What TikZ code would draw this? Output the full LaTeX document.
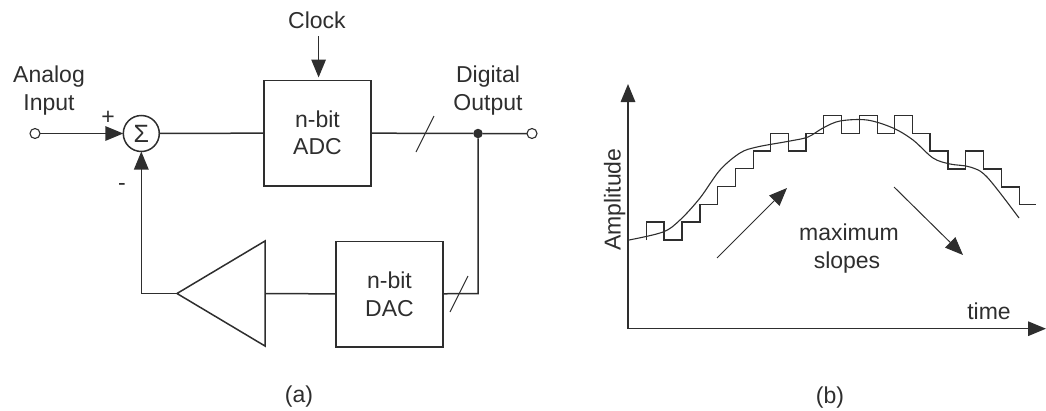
\documentclass[tikz,border=0pt]{standalone}
\usepackage{fontspec}
\setmainfont{Liberation Sans}
\usetikzlibrary{arrows.meta}
\definecolor{ink}{HTML}{2E2E2E}
\tikzset{
  wire/.style={draw=ink,line width=1.5pt},
  thin wire/.style={draw=ink,line width=1pt},
  head/.style={-{Triangle[length=18pt,width=14.5pt,fill=ink,color=ink]}},
  port/.style={circle,draw=ink,line width=1.1pt,fill=white,minimum size=10pt,inner sep=0pt,outer sep=0pt},
  junction/.style={circle,fill=ink,minimum size=9.5pt,inner sep=0pt,outer sep=0pt},
  block/.style={draw=ink,line width=1.5pt,align=center,inner sep=0pt,outer sep=0pt,text=ink,font=\fontsize{23}{27.5}\selectfont},
  lbl/.style={inner sep=0pt,outer sep=0pt,text=ink,font=\fontsize{23}{28}\selectfont,anchor=base},
  lblm/.style={inner sep=0pt,outer sep=0pt,text=ink,font=\fontsize{23}{28}\selectfont,align=center}
}
\begin{document}
\begin{tikzpicture}[x=1pt,y=-1pt]
\useasboundingbox (0,0) rectangle (1046,410);
% (a) nodes
\node[port] (in) at (35,133.5) {};
\node[circle,draw=ink,line width=1.5pt,minimum size=36pt,inner sep=0pt,outer sep=0pt,text=ink,font=\fontsize{25}{25}\selectfont] (sum) at (141.3,133.5) {Σ};
\node[block,minimum width=107pt,minimum height=105.5pt] (adc) at (317.5,133) {n-bit\\ADC};
\node[block,minimum width=107pt,minimum height=105.5pt] (dac) at (389.5,294.2) {n-bit\\DAC};
\node[junction] (dot) at (478,133.5) {};
\node[port] (out) at (532,133.5) {};
\node[lblm] (analog) at (49,90.5) {Analog\\Input};
\node[lblm] (digital) at (488,90.5) {Digital\\Output};
\node[lbl] (clock) at (317,28) {Clock};
\node[lbl] (plus) at (108,124) {+};
\node[lbl] (minus) at (122,190) {-};
\node[lbl] (cap a) at (299,402) {(a)};
\coordinate (clkfrom) at (318.6,36);
\coordinate (clkto) at (318.6,77.5);
\coordinate (amptip) at (177,293.5);
\coordinate (amptop) at (265,241);
\coordinate (ampbot) at (265,346);
\coordinate (ampin) at (265,293.5);
\coordinate (fbcorner) at (141.3,293.5);
\coordinate (fbr) at (478,293.5);
% (a) connectors
\draw[wire] (amptip) -- (amptop) -- (ampbot) -- cycle;
\draw[wire,head] (in) -- (sum.west);
\draw[wire] (sum) -- (adc);
\draw[wire,head] (clkfrom) -- (clkto);
\draw[wire] (adc) -- (dot) -- (out);
\draw[wire] (dot) -- (fbr) -- (dac);
\draw[wire] (dac) -- (ampin);
\draw[wire,head] (amptip) -- (fbcorner) -- (sum.south);
\coordinate (s1a) at (416,152); \coordinate (s1b) at (434,116);
\coordinate (s2a) at (450,312); \coordinate (s2b) at (468,276);
\draw[thin wire] (s1a) -- (s1b);
\draw[thin wire] (s2a) -- (s2b);
% (b) axes
\coordinate (origin) at (628,328.7);
\coordinate (ytip) at (628,84);
\coordinate (xtip) at (1046,328.7);
\draw[wire,head] (origin) -- (ytip);
\draw[wire,head] (origin) -- (xtip);
\node[lbl,rotate=90] (amp) at (620.7,199.7) {Amplitude};
\node[lbl] (time) at (989,319) {time};
\node[lbl] (maxi) at (849,240) {maximum};
\node[lbl] (slopes) at (847,268) {slopes};
\node[lbl] (cap b) at (830,403) {(b)};
% staircase
\draw[draw=ink,line width=1.3pt,line join=miter]
 (646.7,240)--(646.7,222)--(664,222)--(664,240)--(682,240)--(682,222)--(700,222)--(700,204.3)--(717.3,204.3)--(717.3,186.7)--(735.3,186.7)--(735.3,168.7)--(753.3,168.7)--(753.3,151)--(770.7,151)--(770.7,133.3)--(788.7,133.3)--(788.7,151)--(806,151)--(806,133.3)--(823.3,133.3)--(823.3,115.7)--(841.3,115.7)--(841.3,133.3)--(859.3,133.3)--(859.3,115.7)--(877.3,115.7)--(877.3,133.3)--(894.7,133.3)--(894.7,115.7)--(912.7,115.7)--(912.7,133.3)--(930,133.3)--(930,151)--(948,151)--(948,169)--(965.3,169)--(965.3,151)--(983.3,151)--(983.3,169)--(1001.3,169)--(1001.3,187)--(1019.3,187)--(1019.3,204.7)--(1036,204.7);
% analog curve
\draw[draw=ink,line width=1.1pt] plot[smooth,tension=0.55] coordinates {(629,240)(663,232)(680,220)(700,198)(720,170)(740,153)(757,147)(790,141)(808,137)(823,128)(840,121)(867,120)(893,128)(913,140)(933,158)(950,164)(970,167)(987,177)(1019,218)};
% slope arrows
\coordinate (up a) at (717,258); \coordinate (up b) at (787,188);
\coordinate (dn a) at (894,187); \coordinate (dn b) at (963,255);
\draw[thin wire,head] (up a) -- (up b);
\draw[thin wire,head] (dn a) -- (dn b);
\end{tikzpicture}
\end{document}
